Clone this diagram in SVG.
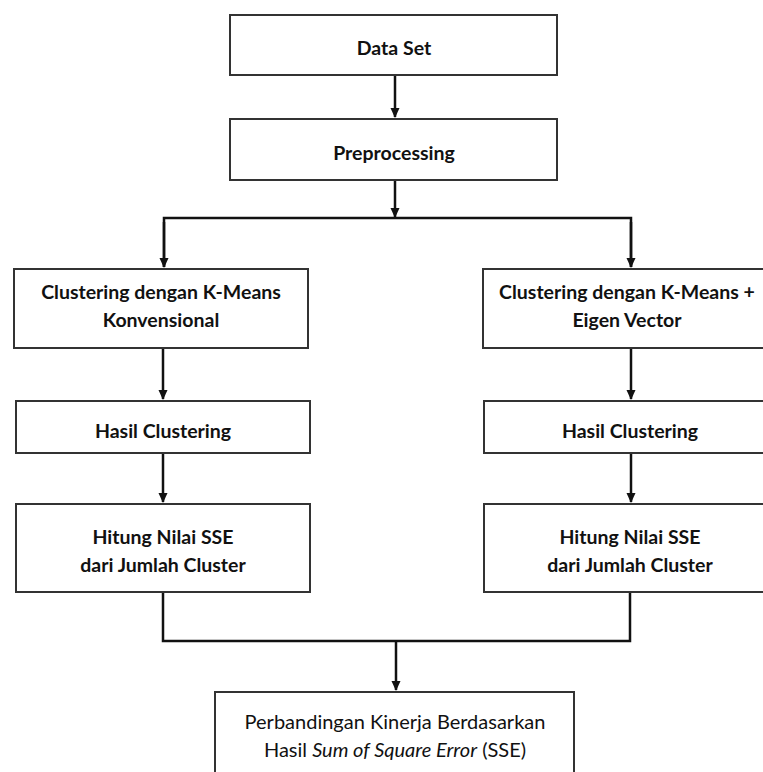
<svg xmlns="http://www.w3.org/2000/svg" width="763" height="772" viewBox="0 0 763 772">
<style>
.box{fill:#fff;stroke:#333;stroke-width:2}
.t{font-family:Lato,"Liberation Sans",sans-serif;font-size:19.5px;font-weight:bold;fill:#111;text-anchor:middle}
.r{font-family:Lato,"Liberation Sans",sans-serif;font-size:20px;fill:#111;text-anchor:middle}
.c{fill:none;stroke:#111;stroke-width:2.5}
</style>
<defs>
<marker id="ah" markerWidth="10" markerHeight="10" refX="9" refY="5" orient="auto" markerUnits="userSpaceOnUse">
<path d="M0,0.5 L10,5 L0,9.5 Z" fill="#111"/>
</marker>
</defs>
<rect width="763" height="772" fill="#fff"/>
<g id="connectors">
<path class="c" d="M395,75 V117" marker-end="url(#ah)"/>
<path class="c" d="M395,180 V217" marker-end="url(#ah)"/>
<path class="c" d="M164,267 V218 H631 V267" />
<path class="c" d="M164,222 V267" marker-end="url(#ah)"/>
<path class="c" d="M631,222 V267" marker-end="url(#ah)"/>
<path class="c" d="M163,348 V399" marker-end="url(#ah)"/>
<path class="c" d="M163,453 V502" marker-end="url(#ah)"/>
<path class="c" d="M631,348 V399" marker-end="url(#ah)"/>
<path class="c" d="M631,453 V502" marker-end="url(#ah)"/>
<path class="c" d="M163,592 V641 H630 V592"/>
<path class="c" d="M396,641 V690" marker-end="url(#ah)"/>
</g>
<g id="n-dataset"><rect class="box" x="230" y="15" width="327" height="60"/><text class="t" x="394" y="55">Data Set</text></g>
<g id="n-preprocessing"><rect class="box" x="230" y="119" width="327" height="61"/><text class="t" x="394" y="160">Preprocessing</text></g>
<g id="n-kmeans"><rect class="box" x="14" y="269" width="294" height="79"/><text class="t" x="161" y="299">Clustering dengan K-Means</text><text class="t" x="161" y="327">Konvensional</text></g>
<g id="n-kmeans-eigen"><rect class="box" x="483" y="269" width="300" height="79"/><text class="t" x="627" y="299">Clustering dengan K-Means +</text><text class="t" x="627" y="327">Eigen Vector</text></g>
<g id="n-hasil-left"><rect class="box" x="16" y="401" width="294" height="52"/><text class="t" x="163" y="438">Hasil Clustering</text></g>
<g id="n-hasil-right"><rect class="box" x="484" y="401" width="300" height="52"/><text class="t" x="630" y="438">Hasil Clustering</text></g>
<g id="n-sse-left"><rect class="box" x="16" y="504" width="294" height="88"/><text class="t" x="163" y="544">Hitung Nilai SSE</text><text class="t" x="163" y="572">dari Jumlah Cluster</text></g>
<g id="n-sse-right"><rect class="box" x="484" y="504" width="300" height="88"/><text class="t" x="630" y="544">Hitung Nilai SSE</text><text class="t" x="630" y="572">dari Jumlah Cluster</text></g>
<g id="n-perbandingan"><rect class="box" x="215" y="692" width="359" height="100"/><text class="r" x="395" y="729">Perbandingan Kinerja Berdasarkan</text><text class="r" x="395" y="757">Hasil <tspan font-style="italic">Sum of Square Error</tspan> (SSE)</text></g>
</svg>
